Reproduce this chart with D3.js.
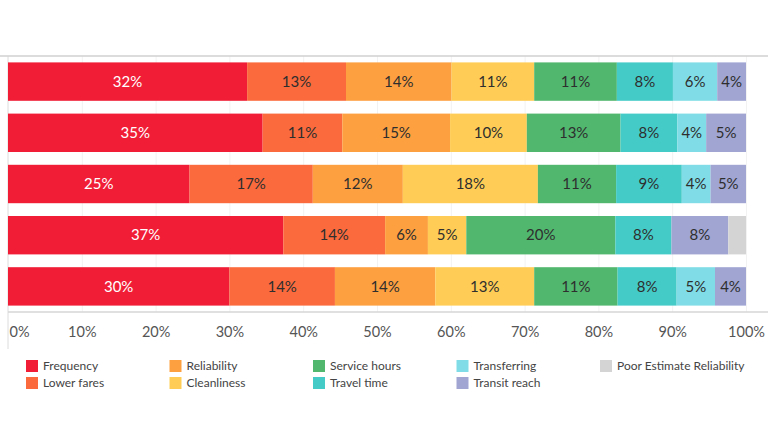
<!DOCTYPE html>
<html>
<head>
<meta charset="utf-8">
<script src="https://cdn.jsdelivr.net/npm/d3@7"></script>
<style>
  body { margin: 0; background: #fff; }
  #wrapper { width: 768px; height: 432px; }
  text { font-family: Lato, "Open Sans", sans-serif; }
</style>
</head>
<body>
<div id="wrapper"></div>
<script>
// data
const rows = ["r1", "r2", "r3", "r4", "r5"]
const categories = [
  "Frequency", "Lower fares", "Reliability", "Cleanliness", "Service hours",
  "Travel time", "Transferring", "Transit reach", "Poor Estimate Reliability",
]
const frequency    = [32.4, 34.5, 24.6, 37.3, 30.0]
const lowerFares   = [13.4, 10.8, 16.7, 13.8, 14.3]
const reliability  = [14.3, 14.6, 12.2,  5.8, 13.6]
const cleanliness  = [11.2, 10.4, 18.3,  5.2, 13.4]
const serviceHours = [11.2, 12.7, 10.6, 20.2, 11.3]
const travelTime   = [ 7.6,  7.7,  8.9,  7.6,  8.0]
const transferring = [ 6.0,  3.9,  3.9,  0.0,  5.2]
const transitReach = [ 3.9,  5.4,  4.8,  7.7,  4.2]
const poorEstimate = [ 0.0,  0.0,  0.0,  2.4,  0.0]
const tickValues = [0, 10, 20, 30, 40, 50, 60, 70, 80, 90, 100]

function drawChart() {
  const series = [frequency, lowerFares, reliability, cleanliness, serviceHours,
    travelTime, transferring, transitReach, poorEstimate]
  const dataset = rows.map((r, i) => {
    const d = { row: r }
    categories.forEach((c, j) => d[c] = series[j][i])
    return d
  })

  const colors = ["#f11d36", "#fb6a3d", "#fda040", "#ffcd55", "#51b76e",
    "#45cbc7", "#80dde7", "#a0a5d2", "#d4d4d4"]

  let dimensions = {
    width: 768,
    height: 432,
    margin: { top: 56, right: 22, bottom: 120, left: 8 },
  }
  dimensions.boundedWidth = dimensions.width - dimensions.margin.left - dimensions.margin.right
  dimensions.boundedHeight = dimensions.height - dimensions.margin.top - dimensions.margin.bottom

  const wrapper = d3.select("#wrapper")
    .append("svg")
      .attr("width", dimensions.width)
      .attr("height", dimensions.height)

  const bounds = wrapper.append("g")
      .attr("transform", `translate(${dimensions.margin.left}, ${dimensions.margin.top})`)

  // scales
  const xScale = d3.scaleLinear()
    .domain([0, 100])
    .range([0, dimensions.boundedWidth])

  const yScale = d3.scaleBand()
    .domain(rows)
    .range([0, dimensions.boundedHeight])
    .paddingInner(0.25)
    .paddingOuter(0.125)

  const colorScale = d3.scaleOrdinal()
    .domain(categories)
    .range(colors)

  // gridlines
  bounds.append("g")
    .selectAll("line")
    .data(tickValues.slice(1))
    .join("line")
      .attr("x1", d => xScale(d) + 0.5)
      .attr("x2", d => xScale(d) + 0.5)
      .attr("y1", 0)
      .attr("y2", dimensions.boundedHeight)
      .attr("stroke", "#f2f2f2")

  // frame lines
  wrapper.append("line")
      .attr("x1", 0).attr("x2", dimensions.width)
      .attr("y1", dimensions.margin.top).attr("y2", dimensions.margin.top)
      .attr("stroke", "#d0d0d0").attr("stroke-width", 1.5)
  bounds.append("line")
      .attr("x1", 0).attr("x2", 0)
      .attr("y1", 0).attr("y2", dimensions.boundedHeight + 37)
      .attr("stroke", "#dcdcdc")

  // stacked bars
  const stack = d3.stack().keys(categories)(dataset)

  const layers = bounds.append("g")
    .selectAll("g")
    .data(stack)
    .join("g")
      .attr("fill", d => colorScale(d.key))

  layers.selectAll("rect")
    .data(d => d)
    .join("rect")
      .attr("x", d => xScale(d[0]))
      .attr("y", d => yScale(d.data.row))
      .attr("width", d => xScale(d[1]) - xScale(d[0]))
      .attr("height", yScale.bandwidth())

  layers.selectAll("text")
    .data(d => d.map(s => ({ s, key: d.key })).filter(e => e.s[1] - e.s[0] >= 3))
    .join("text")
      .attr("x", e => (xScale(e.s[0]) + xScale(e.s[1])) / 2)
      .attr("y", e => yScale(e.s.data.row) + yScale.bandwidth() / 2)
      .attr("dy", "0.35em")
      .attr("text-anchor", "middle")
      .attr("font-size", 15)
      .attr("fill", e => e.key == "Frequency" ? "#ffffff" : "#2e2e2e")
      .text(e => Math.round(e.s[1] - e.s[0]) + "%")

  // x axis
  const xAxisGenerator = d3.axisBottom()
    .scale(xScale)
    .tickValues(tickValues)
    .tickFormat(d => d + "%")
    .tickSize(0)
    .tickPadding(15)

  const xAxis = bounds.append("g")
      .attr("transform", `translate(0, ${dimensions.boundedHeight})`)
      .call(xAxisGenerator)
  xAxis.select(".domain").remove()
  xAxis.append("line")
      .attr("x1", 0).attr("x2", dimensions.width)
      .attr("stroke", "#d6d6d6").attr("stroke-width", 1.5)
  xAxis.selectAll(".tick text")
      .attr("font-family", "Lato, sans-serif")
      .attr("font-size", 14.5)
      .attr("fill", "#555")
      .filter(d => d == 0)
        .attr("text-anchor", "start")
        .attr("x", 1)

  // legend
  const legend = wrapper.append("g")
      .attr("transform", "translate(26, 360)")

  const legendItems = legend.selectAll("g")
    .data(categories)
    .join("g")
      .attr("transform", (d, i) => `translate(${Math.floor(i / 2) * 143.5}, ${(i % 2) * 17})`)

  legendItems.append("rect")
      .attr("width", 12)
      .attr("height", 12)
      .attr("fill", d => colorScale(d))

  legendItems.append("text")
      .attr("x", 17)
      .attr("y", 6)
      .attr("dy", "0.35em")
      .attr("font-size", 12)
      .attr("fill", "#444")
      .text(d => d)
}
drawChart()
</script>
</body>
</html>
